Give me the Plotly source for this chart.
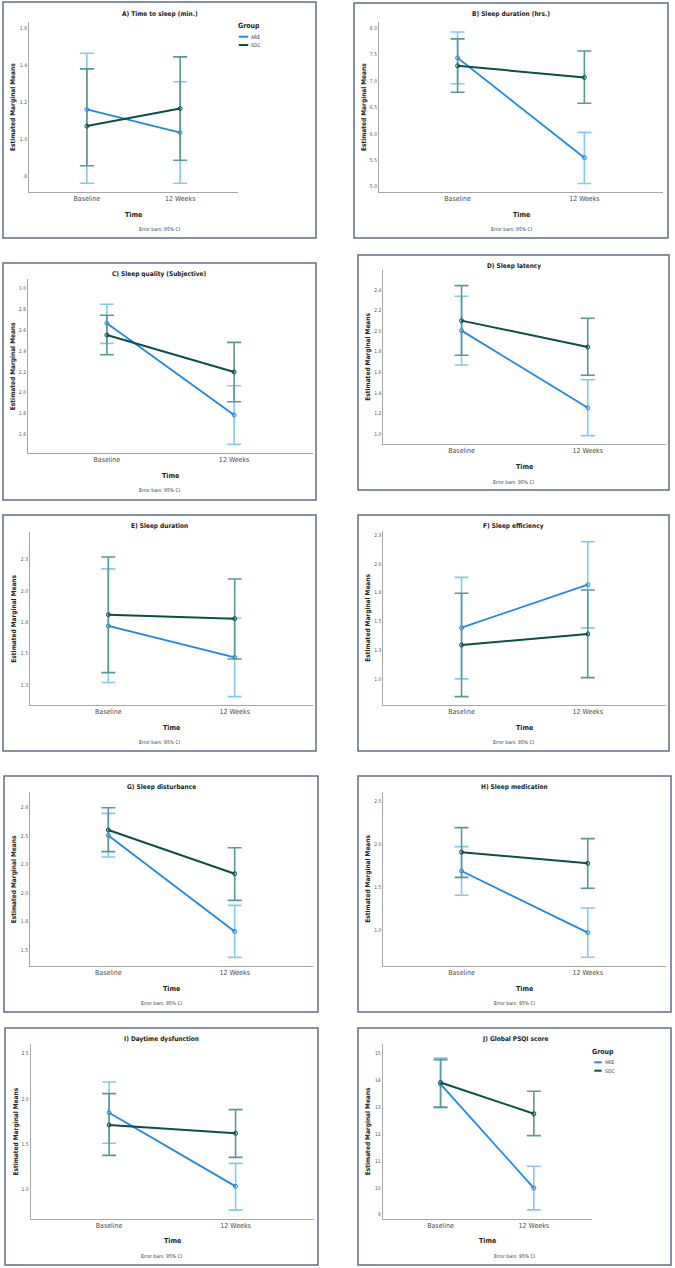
import plotly.graph_objects as go

W, H = 675, 1268

time_labels = ["Baseline", "12 Weeks"]
group_names = ["ARE", "SOC"]
legend_title = "Group"
x_title = "Time"
y_title = "Estimated Marginal Means"
note_text = "Error bars: 95% CI"

titles = [
    "A) Time to sleep (min.)", "B) Sleep duration (hrs.)",
    "C) Sleep quality (Subjective)", "D) Sleep latency",
    "E) Sleep duration", "F) Sleep efficiency",
    "G) Sleep disturbance", "H) Sleep medication",
    "I) Daytime dysfunction", "J) Global PSQI score",
]

# ---- data: means and 95% CI (low / high) at Baseline, 12 Weeks ----
a_are_mean = [1.16, 1.035]; a_are_low = [0.76, 0.76]; a_are_high = [1.465, 1.31]
a_soc_mean = [1.07, 1.165]; a_soc_low = [0.855, 0.885]; a_soc_high = [1.38, 1.445]

b_are_mean = [7.44, 5.55]; b_are_low = [6.95, 5.06]; b_are_high = [7.93, 6.03]
b_soc_mean = [7.29, 7.07]; b_soc_low = [6.79, 6.58]; b_soc_high = [7.80, 7.57]

c_are_mean = [2.667, 1.786]; c_are_low = [2.474, 1.503]; c_are_high = [2.85, 2.067]
c_soc_mean = [2.554, 2.199]; c_soc_low = [2.365, 1.913]; c_soc_high = [2.744, 2.484]

d_are_mean = [2.005, 1.256]; d_are_low = [1.671, 0.984]; d_are_high = [2.339, 1.528]
d_soc_mean = [2.102, 1.846]; d_soc_low = [1.765, 1.571]; d_soc_high = [2.442, 2.125]

e_are_mean = [1.721, 1.471]; e_are_low = [1.27, 1.157]; e_are_high = [2.176, 1.782]
e_soc_mean = [1.811, 1.779]; e_soc_low = [1.348, 1.457]; e_soc_high = [2.271, 2.096]

f_are_mean = [1.447, 1.82]; f_are_low = [1.003, 1.445]; f_are_high = [1.883, 2.192]
f_soc_mean = [1.297, 1.393]; f_soc_low = [0.85, 1.014]; f_soc_high = [1.745, 1.774]

g_are_mean = [2.506, 1.661]; g_are_low = [2.316, 1.433]; g_are_high = [2.70, 1.89]
g_soc_mean = [2.553, 2.169]; g_soc_low = [2.363, 1.934]; g_soc_high = [2.75, 2.398]

h_are_mean = [1.692, 0.977]; h_are_low = [1.41, 0.691]; h_are_high = [1.974, 1.263]
h_soc_mean = [1.909, 1.781]; h_soc_low = [1.618, 1.491]; h_soc_high = [2.195, 2.067]

i_are_mean = [1.847, 1.037]; i_are_low = [1.51, 0.776]; i_are_high = [2.185, 1.29]
i_soc_mean = [1.712, 1.62]; i_soc_low = [1.378, 1.356]; i_soc_high = [2.056, 1.88]

j_are_mean = [13.86, 9.99]; j_are_low = [12.98, 9.18]; j_are_high = [14.83, 10.80]
j_soc_mean = [13.92, 12.757]; j_soc_low = [13.00, 11.94]; j_soc_high = [14.77, 13.59]

# ---- tick values and labels (SPSS style) ----
a_ticks = [0.8, 1.0, 1.2, 1.4, 1.6]; a_tick_text = [".8", "1.0", "1.2", "1.4", "1.6"]
b_ticks = [5.0, 5.5, 6.0, 6.5, 7.0, 7.5, 8.0]; b_tick_text = ["5.0", "5.5", "6.0", "6.5", "7.0", "7.5", "8.0"]
c_ticks = [1.6, 1.8, 2.0, 2.2, 2.4, 2.6, 2.8, 3.0]; c_tick_text = ["1.6", "1.8", "2.0", "2.2", "2.4", "2.6", "2.8", "3.0"]
d_ticks = [1.0, 1.2, 1.4, 1.6, 1.8, 2.0, 2.2, 2.4]; d_tick_text = ["1.0", "1.2", "1.4", "1.6", "1.8", "2.0", "2.2", "2.4"]
e_ticks = [1.25, 1.5, 1.75, 2.0, 2.25]; e_tick_text = ["1.3", "1.5", "1.8", "2.0", "2.3"]
f_ticks = [1.0, 1.25, 1.5, 1.75, 2.0, 2.25]; f_tick_text = ["1.0", "1.3", "1.5", "1.8", "2.0", "2.3"]
g_ticks = [1.5, 1.75, 2.0, 2.25, 2.5, 2.75]; g_tick_text = ["1.5", "1.8", "2.0", "2.3", "2.5", "2.8"]
h_ticks = [1.0, 1.5, 2.0, 2.5]; h_tick_text = ["1.0", "1.5", "2.0", "2.5"]
i_ticks = [1.0, 1.5, 2.0, 2.5]; i_tick_text = ["1.0", "1.5", "2.0", "2.5"]
j_ticks = [9, 10, 11, 12, 13, 14, 15]; j_tick_text = ["9", "10", "11", "12", "13", "14", "15"]

are_means = [a_are_mean, b_are_mean, c_are_mean, d_are_mean, e_are_mean, f_are_mean, g_are_mean, h_are_mean, i_are_mean, j_are_mean]
are_lows = [a_are_low, b_are_low, c_are_low, d_are_low, e_are_low, f_are_low, g_are_low, h_are_low, i_are_low, j_are_low]
are_highs = [a_are_high, b_are_high, c_are_high, d_are_high, e_are_high, f_are_high, g_are_high, h_are_high, i_are_high, j_are_high]
soc_means = [a_soc_mean, b_soc_mean, c_soc_mean, d_soc_mean, e_soc_mean, f_soc_mean, g_soc_mean, h_soc_mean, i_soc_mean, j_soc_mean]
soc_lows = [a_soc_low, b_soc_low, c_soc_low, d_soc_low, e_soc_low, f_soc_low, g_soc_low, h_soc_low, i_soc_low, j_soc_low]
soc_highs = [a_soc_high, b_soc_high, c_soc_high, d_soc_high, e_soc_high, f_soc_high, g_soc_high, h_soc_high, i_soc_high, j_soc_high]
tick_vals = [a_ticks, b_ticks, c_ticks, d_ticks, e_ticks, f_ticks, g_ticks, h_ticks, i_ticks, j_ticks]
tick_texts = [a_tick_text, b_tick_text, c_tick_text, d_tick_text, e_tick_text, f_tick_text, g_tick_text, h_tick_text, i_tick_text, j_tick_text]

# ---- layout geometry (pixels) ----
geom = [
    dict(frame=(3, 2, 316, 238), plot=(29, 238, 22, 192), yr=(0.713, 1.634), ty=14, tm=215, nt=229, yx=13),
    dict(frame=(354, 3, 668, 238), plot=(379, 663, 22, 192), yr=(4.90, 8.12), ty=14, tm=215, nt=229, yx=364),
    dict(frame=(3, 263, 316, 500), plot=(28, 313, 279, 452.7), yr=(1.423, 3.093), ty=274.3, tm=475.7, nt=490, yx=13.3),
    dict(frame=(358, 255, 669, 490), plot=(383.3, 666, 270, 444), yr=(0.903, 2.594), ty=265.7, tm=467, nt=481.7, yx=367.7),
    dict(frame=(3, 515, 316, 751), plot=(30, 313, 531.7, 705), yr=(1.09, 2.473), ty=526, tm=728.3, nt=742.3, yx=14.3),
    dict(frame=(358, 515, 669, 751), plot=(383.3, 666, 531, 705), yr=(0.777, 2.285), ty=526, tm=728, nt=742, yx=367.7),
    dict(frame=(4, 776, 318, 1012), plot=(30, 313, 792, 966), yr=(1.357, 2.888), ty=787, tm=989, nt=1003, yx=14.3),
    dict(frame=(358, 776, 671, 1012), plot=(383.3, 666, 792, 966), yr=(0.59, 2.608), ty=787, tm=989, nt=1003, yx=367.7),
    dict(frame=(5, 1028, 318, 1265), plot=(30.7, 314, 1044, 1219), yr=(0.678, 2.602), ty=1039, tm=1241, nt=1256, yx=15),
    dict(frame=(358, 1028, 671, 1265), plot=(382.7, 591.7, 1044, 1219), yr=(8.84, 15.35), ty=1039, tm=1241, nt=1256, yx=367.7),
]

ARE_LINE, ARE_ERR = "#1E88E5", "#86C8EF"
SOC_LINE, SOC_ERR = "#0B4F4A", "#5A9893"
FONT = "Liberation Sans Narrow, DejaVu Sans Condensed, Liberation Sans, Arial, sans-serif"


def px(x):
    return x / W


def py(y):
    return 1 - y / H


fig = go.Figure()
layout = dict(width=W, height=H, margin=dict(l=0, r=0, t=0, b=0),
              paper_bgcolor="white", plot_bgcolor="white", showlegend=False,
              font=dict(family=FONT, color="#333"))
shapes, annotations = [], []

for i, g in enumerate(geom):
    n = "" if i == 0 else str(i + 1)
    xa, ya = "x" + n, "y" + n
    x0, x1, yt, yb = g["plot"]
    layout["xaxis" + n] = dict(domain=[px(x0), px(x1)], anchor=ya, type="category",
                               range=[-0.62, 1.62], showline=True, linecolor="#a6a6a6",
                               linewidth=1, ticks="", showgrid=False, zeroline=False,
                               tickfont=dict(size=7, color="#4a4a4a", family=FONT), fixedrange=True)
    layout["yaxis" + n] = dict(domain=[py(yb), py(yt)], anchor=xa, range=list(g["yr"]),
                               showline=True, linecolor="#a6a6a6", linewidth=1, ticks="",
                               showgrid=False, zeroline=False, tickmode="array",
                               tickvals=tick_vals[i], ticktext=tick_texts[i],
                               tickfont=dict(size=5, color="#555", family=FONT), fixedrange=True)
    series = [
        (are_means[i], are_lows[i], are_highs[i], ARE_LINE, ARE_ERR, 1.8, group_names[0]),
        (soc_means[i], soc_lows[i], soc_highs[i], SOC_LINE, SOC_ERR, 2.0, group_names[1]),
    ]
    for mean, low, high, lc, ec, lw, name in series:
        fig.add_trace(go.Scatter(
            x=time_labels, y=mean, name=name, xaxis=xa, yaxis=ya, mode="lines+markers",
            line=dict(color=lc, width=lw),
            marker=dict(symbol="circle-open", size=4, color=lc, line=dict(width=1, color=lc)),
            error_y=dict(type="data", symmetric=False,
                         array=[h - m for h, m in zip(high, mean)],
                         arrayminus=[m - l for m, l in zip(mean, low)],
                         color=ec, thickness=1.6, width=7),
        ))
    fx0, fy0, fx1, fy1 = g["frame"]
    shapes.append(dict(type="rect", xref="paper", yref="paper", x0=px(fx0), x1=px(fx1),
                       y0=py(fy0), y1=py(fy1), line=dict(color="#5f6d8c", width=1.5),
                       fillcolor="rgba(0,0,0,0)", layer="above"))
    fcx = (fx0 + fx1) / 2
    annotations.append(dict(text="<b>%s</b>" % titles[i], x=px(fcx), y=py(g["ty"]), xref="paper", yref="paper",
                            showarrow=False, xanchor="center", yanchor="middle",
                            font=dict(size=6.5, color="#222", family=FONT)))
    annotations.append(dict(text="<b>%s</b>" % x_title, x=px((x0 + x1) / 2), y=py(g["tm"]), xref="paper", yref="paper",
                            showarrow=False, xanchor="center", yanchor="middle",
                            font=dict(size=7, color="#222", family=FONT)))
    annotations.append(dict(text=note_text, x=px(fcx), y=py(g["nt"]), xref="paper", yref="paper",
                            showarrow=False, xanchor="center", yanchor="middle",
                            font=dict(size=5, color="#333", family=FONT)))
    annotations.append(dict(text="<b>%s</b>" % y_title, x=px(g["yx"]), y=py((yt + yb) / 2), xref="paper", yref="paper",
                            showarrow=False, xanchor="center", yanchor="middle", textangle=-90,
                            font=dict(size=6.5, color="#222", family=FONT)))

# ---- legends (panels A and J) ----
legends = [
    dict(gx=249, gy=25.7, lx0=238.7, lx1=248.3, tx=249.3, ys=(36.7, 45)),
    dict(gx=603.3, gy=1051.7, lx0=594.3, lx1=601.7, tx=602.7, ys=(1062.3, 1070.7)),
]
for lg in legends:
    annotations.append(dict(text="<b>%s</b>" % legend_title, x=px(lg["gx"]), y=py(lg["gy"]), xref="paper", yref="paper",
                            showarrow=False, xanchor="center", yanchor="middle",
                            font=dict(size=7, color="#222", family=FONT)))
    for name, col, yy in zip(group_names, [ARE_LINE, SOC_LINE], lg["ys"]):
        shapes.append(dict(type="line", xref="paper", yref="paper", x0=px(lg["lx0"]), x1=px(lg["lx1"]),
                           y0=py(yy), y1=py(yy), line=dict(color=col, width=2)))
        annotations.append(dict(text=name, x=px(lg["tx"]), y=py(yy), xref="paper", yref="paper",
                                showarrow=False, xanchor="left", yanchor="middle",
                                font=dict(size=5, color="#333", family=FONT)))

layout["shapes"] = shapes
layout["annotations"] = annotations
fig.update_layout(**layout)
fig.write_html("out.html")
